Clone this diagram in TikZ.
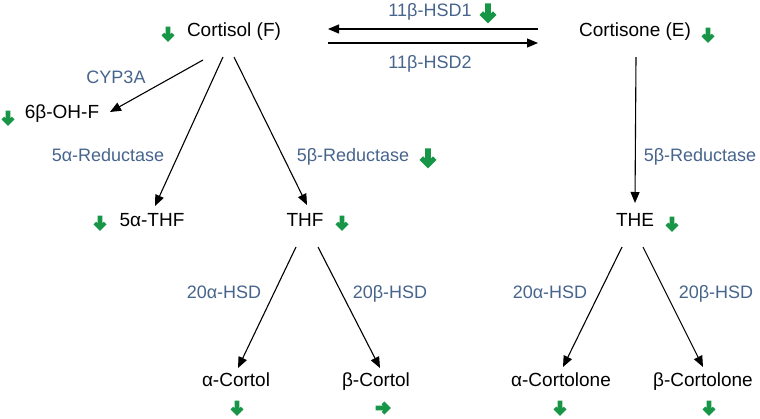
\documentclass[tikz,border=0pt]{standalone}
\usepackage{fontspec}
\setmainfont{Liberation Sans}
\usetikzlibrary{arrows.meta,calc}
\definecolor{lblue}{RGB}{70,100,140}
\definecolor{ggreen}{RGB}{22,150,70}
\begin{document}
\begin{tikzpicture}[x=1pt,y=-1pt,
  met/.style={font=\fontsize{19}{22}\selectfont, inner sep=0pt, text height=.716em, text depth=0pt},
  enz/.style={font=\fontsize{18}{21}\selectfont, text=lblue, inner sep=0pt, text height=.716em, text depth=0pt},
  arr/.style={line width=1.1pt, -{Triangle[length=11pt,width=9pt]}},
  gdn/.pic={\fill[ggreen] (-2.3,-7.5) -- (2.3,-7.5) -- (2.3,0.2) -- (3.8,-1.3) -- (6.5,1.4) -- (0,7.9) -- (-6.5,1.4) -- (-3.8,-1.3) -- (-2.3,0.2) -- cycle;},
  grt/.pic={\fill[ggreen] (-7.5,-2.3) -- (-7.5,2.3) -- (0.2,2.3) -- (-1.3,3.8) -- (1.4,6.5) -- (7.9,0) -- (1.4,-6.5) -- (-1.3,-3.8) -- (0.2,-2.3) -- cycle;}
]
\useasboundingbox (0,0) rectangle (760,418);
% metabolites
\node[met] (F) at (234,33) {Cortisol (F)};
\node[met] (E) at (635,33) {Cortisone (E)};
\node[met] (OHF) at (62,115) {6β-OH-F};
\node[met] (aTHF) at (152,223) {5α-THF};
\node[met] (THF) at (305,223) {THF};
\node[met] (THE) at (635,223) {THE};
\node[met] (aC) at (236,383) {α-Cortol};
\node[met] (bC) at (376,383) {β-Cortol};
\node[met] (aCl) at (561,383) {α-Cortolone};
\node[met] (bCl) at (703,383) {β-Cortolone};
% enzymes
\node[enz] (hsd1) at (430,13) {11β-HSD1};
\node[enz] (hsd2) at (430,65) {11β-HSD2};
\node[enz] (cyp) at (116,80) {CYP3A};
\node[enz] (r5a) at (108,158) {5α-Reductase};
\node[enz] (r5b) at (353,158) {5β-Reductase};
\node[enz] (r5bE) at (700,158) {5β-Reductase};
\node[enz] (h20a) at (224,295) {20α-HSD};
\node[enz] (h20b) at (390,295) {20β-HSD};
\node[enz] (h20aE) at (550,295) {20α-HSD};
\node[enz] (h20bE) at (716,295) {20β-HSD};
% connectors
\draw[arr] ($(E)+(-97,-4)$) -- ($(F)+(94,-4)$);
\draw[arr] ($(F)+(94,10)$) -- ($(E)+(-97,10)$);
\draw[arr] ($(F)+(-31,27)$) -- ($(OHF)+(48,-3)$);
\draw[arr] ($(F)+(-11,24)$) -- ($(aTHF)+(3,-17)$);
\draw[arr] ($(F)+(0,24)$) -- ($(THF)+(2,-18)$);
\draw[arr] ($(E)+(1,24)$) -- ($(THE)+(0,-20)$);
\draw[arr] ($(THF)+(-9,24)$) -- ($(aC)+(2,-15)$);
\draw[arr] ($(THF)+(13,24)$) -- ($(bC)+(4,-15)$);
\draw[arr] ($(THE)+(-13,24)$) -- ($(aCl)+(2,-16)$);
\draw[arr] ($(THE)+(8,24)$) -- ($(bCl)+(0,-16)$);
% green indicators
\pic at (168,34) {gdn};
\pic at (708,35) {gdn};
\pic[scale=1.3] at (488,13) {gdn};
\pic at (8,118) {gdn};
\pic at (100,223) {gdn};
\pic at (342,223) {gdn};
\pic[scale=1.3] at (428,158) {gdn};
\pic at (672,224) {gdn};
\pic at (237,408) {gdn};
\pic at (383,408) {grt};
\pic at (560,408) {gdn};
\pic at (709,408) {gdn};
\end{tikzpicture}
\end{document}
